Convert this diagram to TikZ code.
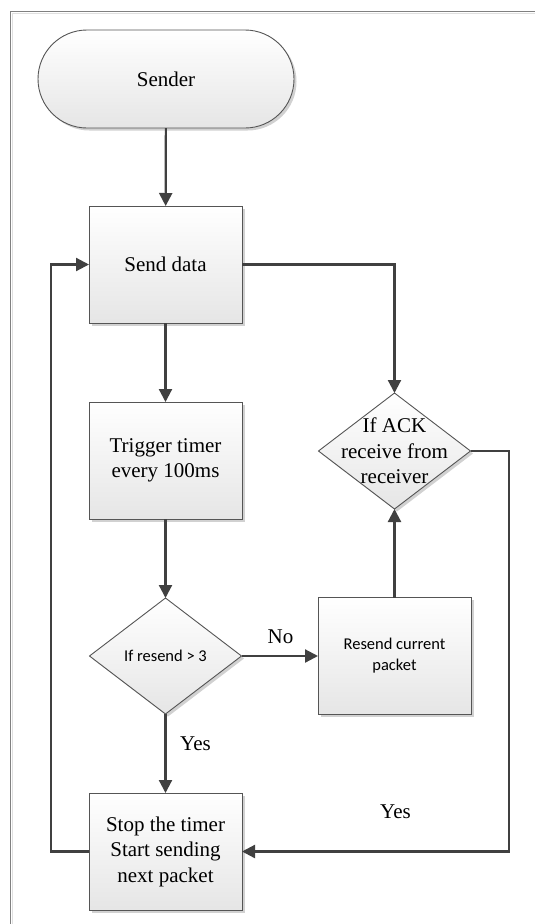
\documentclass[tikz,border=0pt]{standalone}
\usepackage{fontspec}
\setmainfont{Liberation Serif}
\newfontfamily\calfont{Carlito}
\usetikzlibrary{arrows.meta,shapes.geometric,shadows}
\definecolor{linec}{HTML}{404040}
\definecolor{edgec}{HTML}{555555}
\tikzset{
  x=1pt, y=-1pt,
  shapebase/.style={draw=edgec, line width=0.9pt, top color=white, bottom color=black!10,
    drop shadow={shadow xshift=2.5pt, shadow yshift=-2.5pt, fill=black!18, opacity=1},
    outer sep=0pt, inner sep=0pt, align=center},
  termbox/.style={shapebase, rectangle, rounded corners=49pt, minimum width=256pt, minimum height=98pt, font=\fontsize{21}{25}\selectfont},
  procbox/.style={shapebase, rectangle, minimum width=153pt, minimum height=117pt, font=\fontsize{21}{25.5}\selectfont},
  decbox/.style={shapebase, diamond, minimum width=152pt, minimum height=116pt},
  flow/.style={draw=linec, line width=2.2pt, -{Triangle[length=13pt,width=13pt]}},
  lbl/.style={font=\fontsize{21}{25}\selectfont, inner sep=0pt}
}
\begin{document}
\begin{tikzpicture}
  \useasboundingbox (0,0) rectangle (535,924);
  \fill[white] (0,0) rectangle (535,924);
  % page frame
  \draw[black!50, line width=1pt] (10,924) -- (10,11) -- (535,11);
  \draw[black!12, line width=1pt] (12.5,924) -- (12.5,13.5) -- (535,13.5);

  % nodes
  \node[termbox] (sender) at (166,79) {Sender};
  \node[procbox] (send) at (165.5,264.5) {Send data};
  \node[procbox] (trig) at (165.5,460.5) {Trigger timer\\every 100ms};
  \node[decbox, label={[font=\calfont\fontsize{16.5}{21}\selectfont, inner sep=0pt]center:If resend > 3}] (rs) at (165.5,656) {};
  \node[procbox, font=\calfont\fontsize{16.5}{21}\selectfont] (rp) at (394.5,656) {Resend current\\packet};
  \node[decbox, label={[font=\fontsize{21}{25.5}\selectfont, align=center, inner sep=0pt]center:If ACK\\receive from\\receiver}] (ack) at (394.5,451) {};
  \node[procbox] (stop) at (165.5,851.5) {Stop the timer\\Start sending\\next packet};

  % turning points of the two loop-back lines
  \coordinate (lc) at (51,0);
  \coordinate (rc) at (509,0);

  % connectors
  \draw[flow] (sender) -- (send);
  \draw[flow] (send) -- (trig);
  \draw[flow] (trig) -- (rs);
  \draw[flow] (send.east) -- (send.east -| ack.north) -- (ack.north);
  \draw[flow] (rs.east) -- (rp.west);
  \draw[flow] (rs.south) -- (stop.north);
  \draw[flow] (rp.north) -- (ack.south);
  \draw[flow] (ack.east) -- (ack.east -| rc) -- (rc |- stop.east) -- (stop.east);
  \draw[flow] (stop.west) -- (lc |- stop.west) -- (lc |- send.west) -- (send.west);

  % branch labels
  \node[lbl] (no) at (280.5,637) {No};
  \node[lbl] (yes1) at (195.5,744) {Yes};
  \node[lbl] (yes2) at (395.5,812) {Yes};
\end{tikzpicture}
\end{document}
